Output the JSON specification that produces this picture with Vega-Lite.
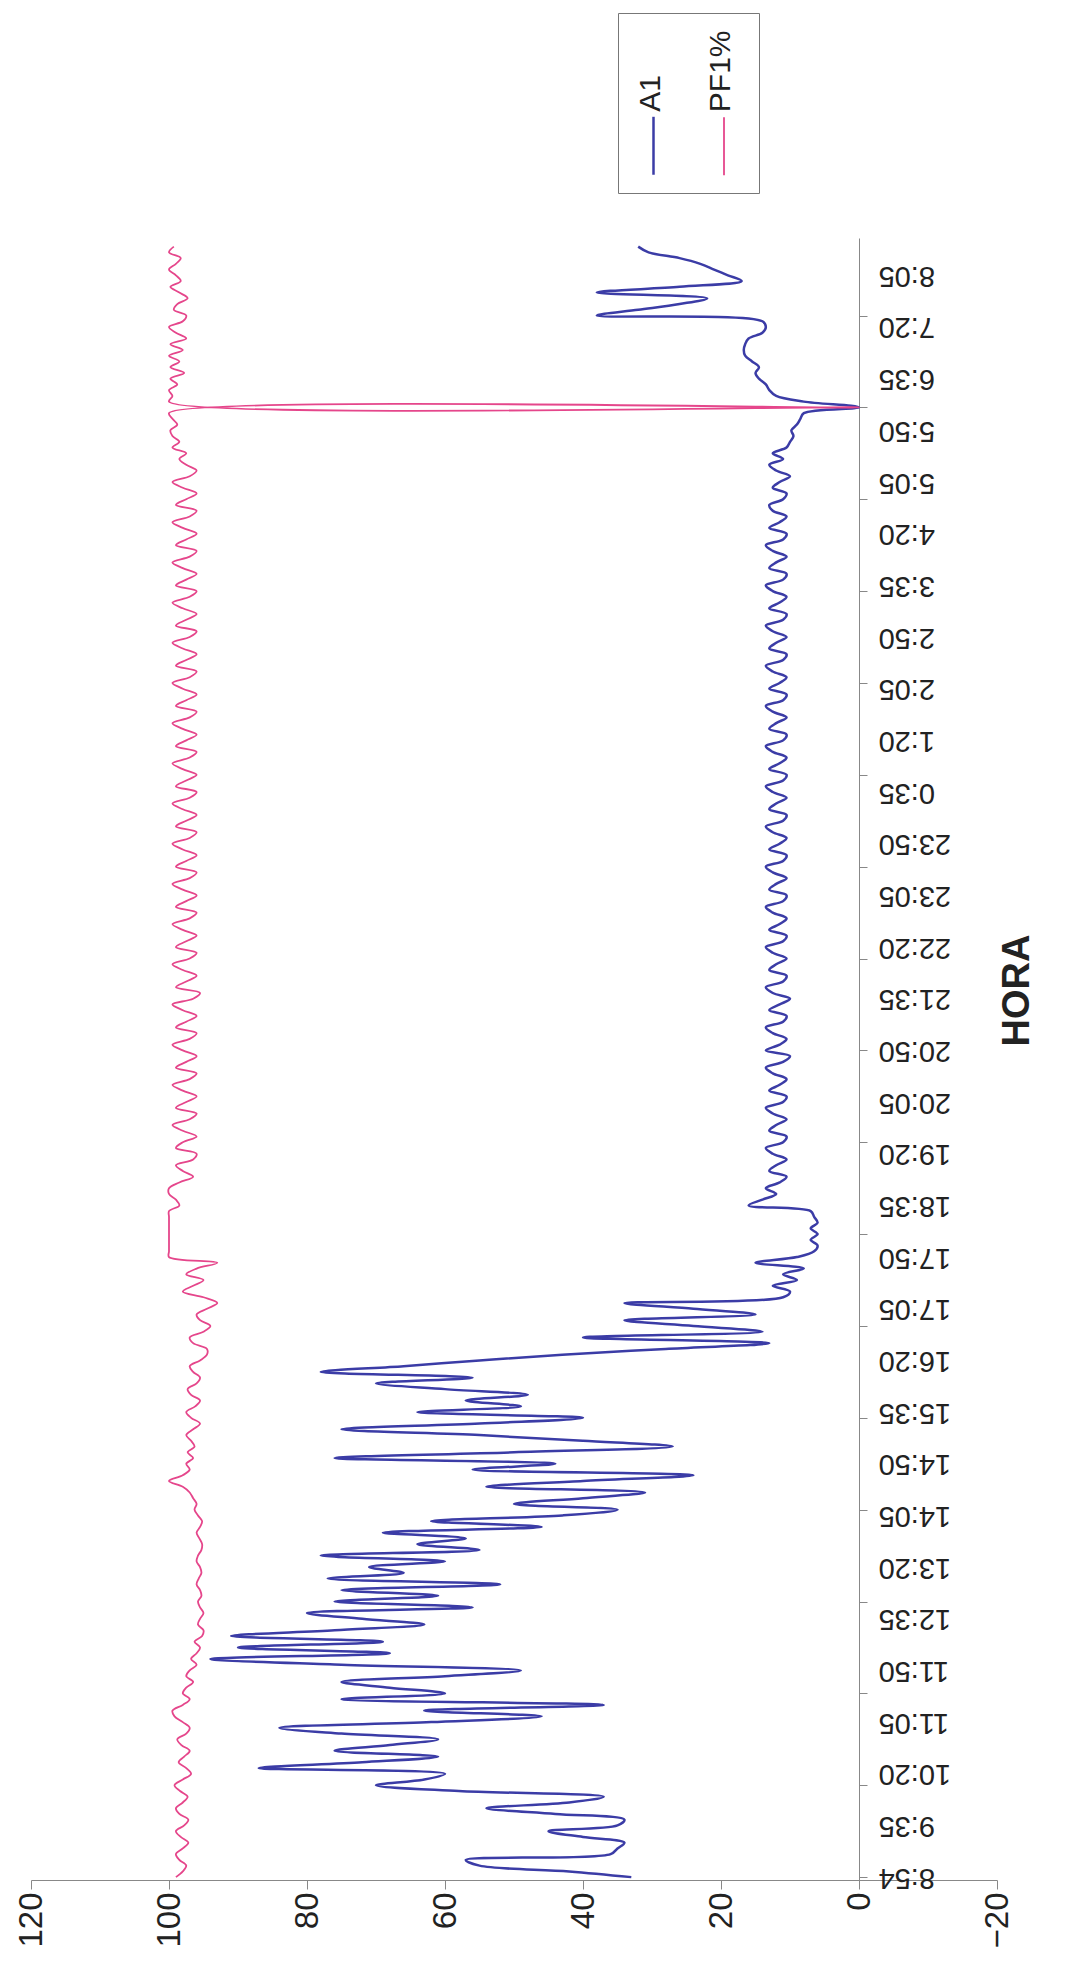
{
"$schema": "https://vega.github.io/schema/vega-lite/v6.json",
"width": 966,
"height": 1642,
"autosize": {"type": "none"},
"padding": {"left": 31, "top": 238, "right": 80, "bottom": 86},
"background": "white",
"config": {"view": {"stroke": null}, "font": "Liberation Sans", "style": {"guide-label": {"angle": 270}}},
"data": {"values": [
{"i":0,"A1":33,"PF1%":99},{"i":1,"A1":42,"PF1%":98},{"i":2,"A1":55,"PF1%":97.5},{"i":3,"A1":57,"PF1%":98.5},{"i":4,"A1":36,"PF1%":99},
{"i":5,"A1":35,"PF1%":98},{"i":6,"A1":34,"PF1%":97.2},{"i":7,"A1":40,"PF1%":98.3},{"i":8,"A1":45,"PF1%":99},{"i":9,"A1":35,"PF1%":97.8},
{"i":10,"A1":34,"PF1%":97.2},{"i":11,"A1":44,"PF1%":98.5},{"i":12,"A1":54,"PF1%":99},{"i":13,"A1":42,"PF1%":98},{"i":14,"A1":37,"PF1%":97.3},
{"i":15,"A1":58,"PF1%":98.4},{"i":16,"A1":70,"PF1%":99.2},{"i":17,"A1":63,"PF1%":98},{"i":18,"A1":60,"PF1%":96.8},{"i":19,"A1":87,"PF1%":97.5},
{"i":20,"A1":72,"PF1%":98.6},{"i":21,"A1":61,"PF1%":97.8},{"i":22,"A1":76,"PF1%":97},{"i":23,"A1":68,"PF1%":98.2},{"i":24,"A1":61,"PF1%":98.8},
{"i":25,"A1":75,"PF1%":97.5},{"i":26,"A1":84,"PF1%":97},{"i":27,"A1":62,"PF1%":98},{"i":28,"A1":46,"PF1%":99.2},{"i":29,"A1":63,"PF1%":99.5},
{"i":30,"A1":37,"PF1%":98},{"i":31,"A1":75,"PF1%":97},{"i":32,"A1":60,"PF1%":98},{"i":33,"A1":68,"PF1%":97.5},{"i":34,"A1":75,"PF1%":96.5},
{"i":35,"A1":60,"PF1%":97.5},{"i":36,"A1":49,"PF1%":97},{"i":37,"A1":75,"PF1%":96},{"i":38,"A1":94,"PF1%":96.8},{"i":39,"A1":68,"PF1%":96},
{"i":40,"A1":90,"PF1%":95.5},{"i":41,"A1":69,"PF1%":96.3},{"i":42,"A1":91,"PF1%":95.2},{"i":43,"A1":76,"PF1%":95},{"i":44,"A1":63,"PF1%":95.8},
{"i":45,"A1":72,"PF1%":95.5},{"i":46,"A1":80,"PF1%":95},{"i":47,"A1":56,"PF1%":95.5},{"i":48,"A1":76,"PF1%":95.8},{"i":49,"A1":61,"PF1%":95.3},
{"i":50,"A1":75,"PF1%":95.5},{"i":51,"A1":52,"PF1%":96},{"i":52,"A1":77,"PF1%":95.7},{"i":53,"A1":66,"PF1%":95.3},{"i":54,"A1":71,"PF1%":95.5},
{"i":55,"A1":60,"PF1%":96},{"i":56,"A1":78,"PF1%":95.8},{"i":57,"A1":55,"PF1%":95.3},{"i":58,"A1":64,"PF1%":95.2},{"i":59,"A1":57,"PF1%":95.6},
{"i":60,"A1":69,"PF1%":96},{"i":61,"A1":46,"PF1%":95.5},{"i":62,"A1":62,"PF1%":95.2},{"i":63,"A1":43,"PF1%":95.8},{"i":64,"A1":35,"PF1%":96.3},
{"i":65,"A1":50,"PF1%":96},{"i":66,"A1":40,"PF1%":96.5},{"i":67,"A1":31,"PF1%":97},{"i":68,"A1":54,"PF1%":98},{"i":69,"A1":40,"PF1%":100},
{"i":70,"A1":24,"PF1%":98},{"i":71,"A1":56,"PF1%":97},{"i":72,"A1":44,"PF1%":97.5},{"i":73,"A1":76,"PF1%":96.5},{"i":74,"A1":50,"PF1%":97.3},
{"i":75,"A1":27,"PF1%":96.3},{"i":76,"A1":40,"PF1%":96.8},{"i":77,"A1":55,"PF1%":97.5},{"i":78,"A1":75,"PF1%":96.5},{"i":79,"A1":55,"PF1%":95.5},
{"i":80,"A1":40,"PF1%":96.8},{"i":81,"A1":64,"PF1%":97.5},{"i":82,"A1":49,"PF1%":96.2},{"i":83,"A1":57,"PF1%":95.5},{"i":84,"A1":48,"PF1%":96.8},
{"i":85,"A1":60,"PF1%":97.3},{"i":86,"A1":70,"PF1%":96},{"i":87,"A1":56,"PF1%":95.5},{"i":88,"A1":78,"PF1%":96.5},{"i":89,"A1":66,"PF1%":97},
{"i":90,"A1":55,"PF1%":95.5},{"i":91,"A1":43,"PF1%":94.5},{"i":92,"A1":28,"PF1%":94.5},{"i":93,"A1":13,"PF1%":96.5},{"i":94,"A1":40,"PF1%":97},
{"i":95,"A1":14,"PF1%":95},{"i":96,"A1":24,"PF1%":94},{"i":97,"A1":34,"PF1%":95.5},{"i":98,"A1":15,"PF1%":96},{"i":99,"A1":24,"PF1%":94.5},
{"i":100,"A1":34,"PF1%":93},{"i":101,"A1":11,"PF1%":95},{"i":102,"A1":10,"PF1%":98},{"i":103,"A1":12.5,"PF1%":96.5},{"i":104,"A1":9,"PF1%":95},
{"i":105,"A1":11,"PF1%":97.5},{"i":106,"A1":8,"PF1%":96},{"i":107,"A1":15,"PF1%":93},{"i":108,"A1":9,"PF1%":100},{"i":109,"A1":6.5,"PF1%":100},
{"i":110,"A1":6,"PF1%":100},{"i":111,"A1":7,"PF1%":100},{"i":112,"A1":6,"PF1%":100},{"i":113,"A1":7,"PF1%":100},{"i":114,"A1":6,"PF1%":100},
{"i":115,"A1":6.5,"PF1%":100},{"i":116,"A1":7,"PF1%":100},{"i":117,"A1":16,"PF1%":98.5},{"i":118,"A1":14,"PF1%":99},{"i":119,"A1":12,"PF1%":100},
{"i":120,"A1":13.5,"PF1%":100},{"i":121,"A1":11.5,"PF1%":98.5},{"i":122,"A1":10.5,"PF1%":96.5},{"i":123,"A1":13,"PF1%":98},{"i":124,"A1":12,"PF1%":99},
{"i":125,"A1":10.5,"PF1%":96.5},{"i":126,"A1":12.5,"PF1%":96},{"i":127,"A1":13.5,"PF1%":99},{"i":128,"A1":11,"PF1%":98},{"i":129,"A1":10.5,"PF1%":96},
{"i":130,"A1":13,"PF1%":98},{"i":131,"A1":12,"PF1%":99.5},{"i":132,"A1":10.5,"PF1%":97},{"i":133,"A1":12.5,"PF1%":96},{"i":134,"A1":13.5,"PF1%":99},
{"i":135,"A1":11,"PF1%":97.5},{"i":136,"A1":10.5,"PF1%":96},{"i":137,"A1":13,"PF1%":98},{"i":138,"A1":11.5,"PF1%":99.5},{"i":139,"A1":10.5,"PF1%":97},
{"i":140,"A1":12.5,"PF1%":96},{"i":141,"A1":13.5,"PF1%":99},{"i":142,"A1":11,"PF1%":97.5},{"i":143,"A1":10,"PF1%":96},{"i":144,"A1":13.5,"PF1%":98},
{"i":145,"A1":11.5,"PF1%":99.5},{"i":146,"A1":10.5,"PF1%":97},{"i":147,"A1":12.5,"PF1%":96},{"i":148,"A1":13.5,"PF1%":99},{"i":149,"A1":11,"PF1%":97.5},
{"i":150,"A1":10.5,"PF1%":96},{"i":151,"A1":13,"PF1%":98},{"i":152,"A1":11.5,"PF1%":99.5},{"i":153,"A1":10,"PF1%":96.5},{"i":154,"A1":12.5,"PF1%":95.5},
{"i":155,"A1":13.5,"PF1%":99},{"i":156,"A1":11,"PF1%":97.5},{"i":157,"A1":10.5,"PF1%":96},{"i":158,"A1":13,"PF1%":98},{"i":159,"A1":12,"PF1%":99.5},
{"i":160,"A1":10.5,"PF1%":97},{"i":161,"A1":12.5,"PF1%":96},{"i":162,"A1":13.5,"PF1%":99},{"i":163,"A1":11,"PF1%":97.5},{"i":164,"A1":10.5,"PF1%":96},
{"i":165,"A1":13,"PF1%":98},{"i":166,"A1":11.5,"PF1%":99.5},{"i":167,"A1":10.5,"PF1%":97},{"i":168,"A1":12.5,"PF1%":96},{"i":169,"A1":13.5,"PF1%":99},
{"i":170,"A1":11,"PF1%":97.5},{"i":171,"A1":10.5,"PF1%":96},{"i":172,"A1":13,"PF1%":98},{"i":173,"A1":12,"PF1%":99.5},{"i":174,"A1":10.5,"PF1%":97},
{"i":175,"A1":12.5,"PF1%":96},{"i":176,"A1":13.5,"PF1%":99},{"i":177,"A1":11,"PF1%":97.5},{"i":178,"A1":10.5,"PF1%":96},{"i":179,"A1":13,"PF1%":98},
{"i":180,"A1":11.5,"PF1%":99.5},{"i":181,"A1":10.5,"PF1%":97},{"i":182,"A1":12.5,"PF1%":96},{"i":183,"A1":13.5,"PF1%":99},{"i":184,"A1":11,"PF1%":97.5},
{"i":185,"A1":10.5,"PF1%":96},{"i":186,"A1":13,"PF1%":98},{"i":187,"A1":12,"PF1%":99.5},{"i":188,"A1":10.5,"PF1%":97},{"i":189,"A1":12.5,"PF1%":96},
{"i":190,"A1":13.5,"PF1%":99},{"i":191,"A1":11,"PF1%":97.5},{"i":192,"A1":10.5,"PF1%":96},{"i":193,"A1":13,"PF1%":98},{"i":194,"A1":11.5,"PF1%":99.5},
{"i":195,"A1":10.5,"PF1%":97},{"i":196,"A1":12.5,"PF1%":96},{"i":197,"A1":13.5,"PF1%":99},{"i":198,"A1":11,"PF1%":97.5},{"i":199,"A1":10.5,"PF1%":96},
{"i":200,"A1":13,"PF1%":98},{"i":201,"A1":12,"PF1%":99.5},{"i":202,"A1":10.5,"PF1%":97},{"i":203,"A1":12.5,"PF1%":96},{"i":204,"A1":13.5,"PF1%":99},
{"i":205,"A1":11,"PF1%":97.5},{"i":206,"A1":10.5,"PF1%":96},{"i":207,"A1":13,"PF1%":98},{"i":208,"A1":11.5,"PF1%":99.5},{"i":209,"A1":10.5,"PF1%":97},
{"i":210,"A1":12.5,"PF1%":96},{"i":211,"A1":13.5,"PF1%":99},{"i":212,"A1":11,"PF1%":97.5},{"i":213,"A1":10.5,"PF1%":96},{"i":214,"A1":13,"PF1%":98},
{"i":215,"A1":12,"PF1%":99.5},{"i":216,"A1":10.5,"PF1%":97},{"i":217,"A1":12.5,"PF1%":96},{"i":218,"A1":13.5,"PF1%":99},{"i":219,"A1":11,"PF1%":97.5},
{"i":220,"A1":10.5,"PF1%":96},{"i":221,"A1":13,"PF1%":98},{"i":222,"A1":11.5,"PF1%":99.5},{"i":223,"A1":10.5,"PF1%":97},{"i":224,"A1":12.5,"PF1%":96},
{"i":225,"A1":13.5,"PF1%":99},{"i":226,"A1":11,"PF1%":97.5},{"i":227,"A1":10.5,"PF1%":96},{"i":228,"A1":13,"PF1%":98},{"i":229,"A1":12,"PF1%":99.5},
{"i":230,"A1":10.5,"PF1%":97},{"i":231,"A1":12.5,"PF1%":96},{"i":232,"A1":13.5,"PF1%":99},{"i":233,"A1":11,"PF1%":97.5},{"i":234,"A1":10.5,"PF1%":96},
{"i":235,"A1":13,"PF1%":98},{"i":236,"A1":11.5,"PF1%":99.5},{"i":237,"A1":10.5,"PF1%":97},{"i":238,"A1":12.5,"PF1%":96},{"i":239,"A1":13,"PF1%":99},
{"i":240,"A1":11,"PF1%":97.5},{"i":241,"A1":10.5,"PF1%":96},{"i":242,"A1":12.5,"PF1%":98},{"i":243,"A1":11.5,"PF1%":99.5},{"i":244,"A1":10,"PF1%":97},
{"i":245,"A1":12,"PF1%":96},{"i":246,"A1":13,"PF1%":97.5},{"i":247,"A1":11,"PF1%":98.5},{"i":248,"A1":12.5,"PF1%":97.5},{"i":249,"A1":10.5,"PF1%":99.5},
{"i":250,"A1":10,"PF1%":98.5},{"i":251,"A1":9.5,"PF1%":99.5},{"i":252,"A1":9.8,"PF1%":99.8},{"i":253,"A1":9,"PF1%":98.8},{"i":254,"A1":8.5,"PF1%":99.5},
{"i":255,"A1":8,"PF1%":100},{"i":256,"A1":0,"PF1%":0},{"i":257,"A1":8,"PF1%":100},{"i":258,"A1":12,"PF1%":99.5},{"i":259,"A1":13,"PF1%":100},
{"i":260,"A1":13.5,"PF1%":98.8},{"i":261,"A1":14.5,"PF1%":99.8},{"i":262,"A1":15,"PF1%":97.8},{"i":263,"A1":14.5,"PF1%":99.8},{"i":264,"A1":15.5,"PF1%":98.5},
{"i":265,"A1":16.5,"PF1%":100},{"i":266,"A1":16.7,"PF1%":98},{"i":267,"A1":16.5,"PF1%":99.8},{"i":268,"A1":16,"PF1%":97.5},{"i":269,"A1":14,"PF1%":99},
{"i":270,"A1":13.5,"PF1%":100},{"i":271,"A1":14,"PF1%":98},{"i":272,"A1":38,"PF1%":97.5},{"i":273,"A1":32,"PF1%":99.3},{"i":274,"A1":26,"PF1%":98.8},
{"i":275,"A1":22,"PF1%":97.3},{"i":276,"A1":38,"PF1%":98.5},{"i":277,"A1":26,"PF1%":99.8},{"i":278,"A1":17,"PF1%":98.3},{"i":279,"A1":19,"PF1%":99},
{"i":280,"A1":21,"PF1%":100},{"i":281,"A1":23,"PF1%":99},{"i":282,"A1":26,"PF1%":98.3},{"i":283,"A1":30.5,"PF1%":100},{"i":284,"A1":32,"PF1%":99.3}
]},
"transform": [{"fold": ["A1", "PF1%"], "as": ["serie", "valor"]}],
"mark": {"type": "line", "interpolate": "catmull-rom"},
"encoding": {
  "x": {"field": "valor", "type": "quantitative",
        "scale": {"domain": [-20, 120], "reverse": true, "nice": false, "zero": false},
        "axis": {"values": [-20, 0, 20, 40, 60, 80, 100, 120], "labelAngle": 270, "labelAlign": "right", "labelBaseline": "middle",
                 "labelFontSize": 33, "labelColor": "#222", "domainColor": "#888", "tickColor": "#888", "tickSize": 9,
                 "labelPadding": 3, "grid": false, "title": null}},
  "y": {"field": "i", "type": "quantitative", "scale": {"domain": [-0.5, 285.5], "nice": false, "zero": false},
        "axis": {"orient": "right", "offset": -138,
                 "values": [0, 9, 16, 18, 27, 32, 36, 45, 48, 54, 63, 64, 72, 80, 81, 90, 96, 99, 108, 112, 117, 126, 128, 135, 144, 153, 160, 162, 171, 176, 180, 189, 192, 198, 207, 208, 216, 224, 225, 234, 240, 243, 252, 256, 261, 270, 272, 279],
                 "labelExpr": "datum.value % 9 === 0 ? ['8:54','9:35','10:20','11:05','11:50','12:35','13:20','14:05','14:50','15:35','16:20','17:05','17:50','18:35','19:20','20:05','20:50','21:35','22:20','23:05','23:50','0:35','1:20','2:05','2:50','3:35','4:20','5:05','5:50','6:35','7:20','8:05'][round(datum.value/9)] : ''",
                 "labelAngle": 180, "labelAlign": "right", "labelBaseline": "middle", "labelFontSize": 29,
                 "labelFont": "Liberation Sans Narrow, Liberation Sans", "labelColor": "#222", "labelOverlap": false,
                 "ticks": true, "tickSize": 8, "tickColor": "#888",
                 "tickOpacity": {"condition": {"test": "datum.value % 16 === 0", "value": 1}, "value": 0},
                 "labelPadding": 11, "domain": true, "domainColor": "#888", "grid": false,
                 "title": "HORA", "titleAngle": 270, "titleFontSize": 38, "titleFontWeight": "bold", "titleColor": "#222",
                 "titleX": 158, "titleY": 752, "titleAlign": "center", "titleBaseline": "middle"}},
  "color": {"field": "serie", "type": "nominal",
            "scale": {"domain": ["A1", "PF1%"], "range": ["#3b3ca6", "#e5468b"]},
            "legend": {"orient": "none", "legendX": 587, "legendY": -225, "direction": "horizontal", "title": null,
                       "strokeColor": "#777", "fillColor": "white", "padding": 13, "labelFontSize": 30, "labelColor": "#222",
                       "labelAlign": "left", "labelBaseline": "middle", "labelOffset": -88, "symbolOffset": -63, "labelLimit": 300,
                       "symbolType": "M0.214,0L0.214,0M0,0.06L0,0.75", "symbolSize": 28224, "symbolStrokeWidth": 2, "columnPadding": 25}},
  "strokeWidth": {"field": "serie", "type": "nominal", "scale": {"domain": ["A1", "PF1%"], "range": [2.5, 1.8]}, "legend": null},
  "order": {"field": "i", "type": "quantitative"}
}
}
